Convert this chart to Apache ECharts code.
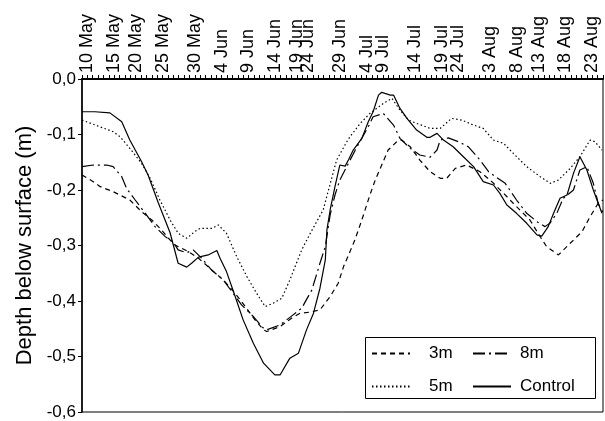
<!DOCTYPE html>
<html>
<head>
<meta charset="utf-8">
<script src="https://cdn.jsdelivr.net/npm/echarts@6/dist/echarts.min.js"></script>
<style>html,body{margin:0;padding:0;background:#fff}#c{width:605px;height:421px}</style>
</head>
<body>
<div id="c"></div>
<script>
// x is the sample index along the (irregular) time axis; one tick per sample
const tickLabelPos = [1, 6, 10, 15, 21, 26, 31, 36, 40, 42, 48, 53, 56, 62, 67, 70, 76, 81, 85, 90, 95];
const tickLabels = ['10 May','15 May','20 May','25 May','30 May','4 Jun','9 Jun','14 Jun','19 Jun','24 Jun','29 Jun','4 Jul','9 Jul','14 Jul','19 Jul','24 Jul','3 Aug','8 Aug','13 Aug','18 Aug','23 Aug'];
const sampleCount = 97;

const series3m = [[0,-0.173],[2.1,-0.185],[3.4,-0.194],[5.8,-0.203],[8.9,-0.218],[11.1,-0.239],[13.0,-0.254],[14.8,-0.272],[16.1,-0.287],[17.3,-0.299],[19.8,-0.311],[21.7,-0.323],[24.5,-0.347],[26.3,-0.362],[28.5,-0.386],[30.4,-0.410],[32.2,-0.434],[33.8,-0.452],[34.4,-0.455],[36.9,-0.446],[39.0,-0.431],[40.6,-0.422],[42.5,-0.420],[44.3,-0.416],[46.2,-0.392],[47.7,-0.368],[48.7,-0.338],[49.9,-0.311],[50.8,-0.290],[52.1,-0.254],[53.6,-0.209],[54.6,-0.182],[55.8,-0.155],[57.0,-0.128],[58.6,-0.113],[59.5,-0.110],[61.1,-0.122],[62.9,-0.146],[64.8,-0.167],[66.7,-0.179],[67.9,-0.179],[69.5,-0.161],[71.6,-0.155],[74.1,-0.167],[76.3,-0.185],[78.5,-0.206],[80.9,-0.230],[83.4,-0.254],[85.3,-0.284],[86.5,-0.302],[88.7,-0.317],[90.9,-0.296],[93.1,-0.275],[94.6,-0.248],[96.1,-0.224],[97.0,-0.218]];

const series5m = [[0,-0.074],[5.8,-0.095],[7.1,-0.104],[8.9,-0.125],[11.1,-0.152],[12.7,-0.179],[14.5,-0.218],[16.4,-0.254],[17.9,-0.278],[19.5,-0.287],[21.0,-0.275],[22.0,-0.269],[24.2,-0.269],[25.4,-0.263],[26.9,-0.278],[28.8,-0.320],[30.7,-0.356],[32.5,-0.386],[34.1,-0.410],[35.6,-0.404],[37.2,-0.395],[38.7,-0.362],[40.9,-0.308],[42.5,-0.278],[44.9,-0.236],[47.4,-0.146],[49.3,-0.113],[49.9,-0.104],[51.8,-0.080],[53.6,-0.062],[56.1,-0.044],[57.7,-0.035],[59.2,-0.056],[60.8,-0.074],[62.3,-0.080],[64.8,-0.089],[66.7,-0.089],[68.8,-0.071],[70.7,-0.074],[72.9,-0.083],[74.7,-0.089],[76.6,-0.110],[78.5,-0.116],[80.3,-0.134],[82.8,-0.158],[85.3,-0.176],[87.2,-0.188],[88.7,-0.182],[90.9,-0.161],[92.7,-0.140],[94.6,-0.110],[95.5,-0.113],[96.8,-0.128]];

const series8m = [[0,-0.158],[2.1,-0.155],[4.6,-0.155],[5.8,-0.158],[7.4,-0.176],[8.3,-0.197],[9.9,-0.218],[12.0,-0.245],[13.6,-0.266],[15.5,-0.284],[17.0,-0.294],[17.9,-0.308],[19.5,-0.313],[20.7,-0.308],[22.3,-0.323],[24.1,-0.344],[26.3,-0.362],[27.9,-0.383],[29.7,-0.407],[31.9,-0.428],[33.8,-0.449],[34.4,-0.452],[36.9,-0.443],[39.3,-0.425],[40.9,-0.413],[42.8,-0.380],[44.3,-0.332],[45.3,-0.302],[46.2,-0.245],[47.1,-0.209],[48.0,-0.182],[49.6,-0.152],[51.2,-0.122],[53.3,-0.086],[54.2,-0.068],[56.1,-0.062],[58.0,-0.083],[59.2,-0.107],[61.1,-0.125],[62.9,-0.137],[64.8,-0.141],[66.1,-0.128],[66.7,-0.110],[68.2,-0.106],[70.1,-0.113],[71.9,-0.122],[74.1,-0.146],[75.7,-0.167],[77.1,-0.177],[78.8,-0.188],[80.9,-0.218],[82.8,-0.242],[84.7,-0.257],[86.2,-0.266],[87.1,-0.260],[88.4,-0.242],[89.6,-0.215],[91.5,-0.200],[92.7,-0.164],[94.0,-0.158],[95.2,-0.188],[96.1,-0.224],[97.0,-0.241]];

const seriesControl = [[0,-0.059],[2.4,-0.059],[5.2,-0.061],[7.4,-0.077],[8.9,-0.110],[11.1,-0.149],[12.3,-0.173],[14.2,-0.223],[16.4,-0.277],[17.9,-0.332],[19.5,-0.339],[20.4,-0.332],[21.7,-0.321],[23.5,-0.317],[25.1,-0.309],[25.7,-0.323],[26.9,-0.347],[28.2,-0.383],[30.0,-0.434],[31.9,-0.476],[33.8,-0.512],[35.9,-0.533],[36.9,-0.533],[38.7,-0.503],[40.3,-0.494],[41.8,-0.452],[43.1,-0.422],[44.3,-0.377],[45.3,-0.326],[45.6,-0.272],[46.2,-0.236],[47.1,-0.194],[48.0,-0.155],[49.0,-0.157],[49.6,-0.146],[50.5,-0.128],[52.1,-0.107],[53.3,-0.077],[54.2,-0.059],[55.2,-0.029],[55.8,-0.024],[56.4,-0.026],[57.4,-0.029],[58.0,-0.029],[59.2,-0.053],[60.5,-0.071],[62.3,-0.092],[64.2,-0.105],[64.8,-0.105],[66.1,-0.098],[67.3,-0.110],[69.1,-0.122],[71.0,-0.140],[72.9,-0.158],[74.7,-0.185],[76.6,-0.191],[77.8,-0.206],[79.1,-0.227],[80.9,-0.242],[82.8,-0.260],[84.7,-0.281],[85.6,-0.283],[86.8,-0.266],[87.8,-0.242],[89.0,-0.215],[90.3,-0.209],[91.5,-0.170],[92.7,-0.140],[94.0,-0.164],[95.2,-0.200],[96.8,-0.242]];

const FONT = 'Liberation Sans, Arial, sans-serif';
const chart = echarts.init(document.getElementById('c'), null, {renderer: 'canvas'});

function mk(name, data, type) {
  return {
    name: name, type: 'line', data: data, symbol: 'none', smooth: false,
    lineStyle: {color: '#000', width: 1.2, type: type}, itemStyle: {color: '#000'},
    z: 2
  };
}

const legendCommon = {orient: 'vertical', top: 340, itemWidth: 38, itemHeight: 14, itemGap: 16, z: 5,
  itemStyle: {opacity: 0}};

chart.setOption({
  animation: false,
  backgroundColor: '#fff',
  grid: {left: 82, right: 2, top: 79, bottom: 9, show: true, borderColor: '#000', borderWidth: 1},
  xAxis: {
    type: 'value', position: 'top', min: 0, max: sampleCount, interval: 1,
    axisLine: {lineStyle: {color: '#000', width: 2}},
    axisTick: {show: true, length: 4, lineStyle: {color: '#000', width: 1}},
    splitLine: {show: false},
    axisLabel: {
      rotate: 90, margin: 6, hideOverlap: false,
      color: '#000', fontSize: 18, fontFamily: FONT,
      formatter: function (v) { const i = tickLabelPos.indexOf(Math.round(v)); return i >= 0 ? tickLabels[i] : ''; }
    }
  },
  yAxis: {
    type: 'value', min: -0.6, max: 0, interval: 0.1,
    name: 'Depth below surface (m)', nameLocation: 'middle', nameGap: 42,
    nameTextStyle: {color: '#000', fontSize: 22, fontFamily: FONT},
    axisLine: {show: true, lineStyle: {color: '#000', width: 1.5}},
    axisTick: {show: true, length: 4, lineStyle: {color: '#000'}},
    splitLine: {show: false},
    axisLabel: {
      color: '#000', fontSize: 17, fontFamily: FONT, margin: 6,
      formatter: function (v) { return v.toFixed(1).replace('.', ','); }
    }
  },
  graphic: [{type: 'rect', left: 365, top: 337, z: 3,
    shape: {width: 230, height: 61}, style: {fill: '#fff', stroke: '#000', lineWidth: 1}}],
  legend: [
    Object.assign({data: ['3m', '5m'], left: 366,
      textStyle: {color: '#000', fontSize: 17, fontFamily: FONT, padding: [0, 0, 0, 14]}}, legendCommon),
    Object.assign({data: ['8m', 'Control'], left: 467,
      textStyle: {color: '#000', fontSize: 17, fontFamily: FONT, padding: [0, 0, 0, 4]}}, legendCommon)
  ],
  series: [
    mk('3m', series3m, [5, 4]),
    mk('8m', series8m, [12, 4, 2, 4]),
    mk('5m', series5m, [1.5, 2.5]),
    mk('Control', seriesControl, 'solid')
  ]
});
</script>
</body>
</html>
